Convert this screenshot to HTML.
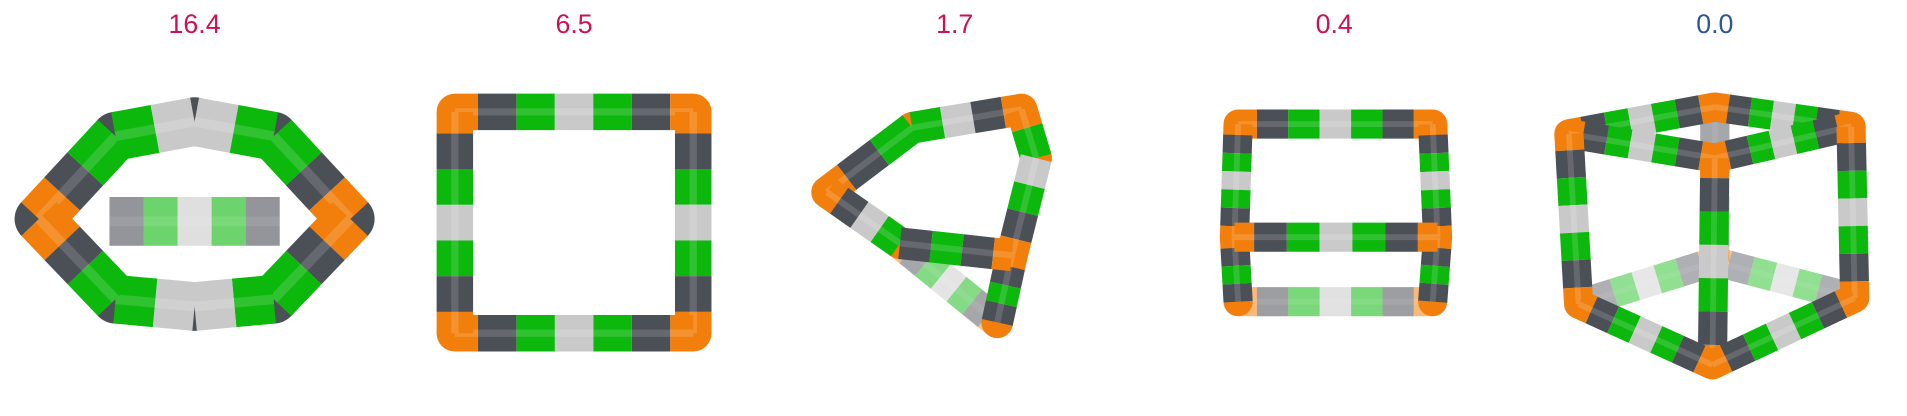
<!DOCTYPE html>
<html><head><meta charset="utf-8"><style>
html,body{margin:0;padding:0;background:#fff;width:1907px;height:416px;overflow:hidden}
svg{display:block}
</style></head><body>
<svg id="fig" width="1907" height="416" viewBox="0 0 1568 342" preserveAspectRatio="none" xmlns="http://www.w3.org/2000/svg">
<g font-family="Liberation Sans, DejaVu Sans, sans-serif" font-size="22" text-anchor="middle">
<text x="160" y="27" fill="#cc1155">16.4</text>
<text x="472" y="27" fill="#cc1155">6.5</text>
<text x="785" y="27" fill="#cc1155">1.7</text>
<text x="1097" y="27" fill="#cc1155">0.4</text>
<text x="1410" y="27" fill="#2e5597">0.0</text>
</g>
<g id="shapes"></g>
</svg>
<script>
const C={o:'#f27f0c',d:'#4b4f56',g:'#0cb80c',l:'#c9c9c9'};
const PAT=['o','d','g','l','g','d','o'];
const W=[0.6,1,1,1,1,1,0.6];
const NS='http://www.w3.org/2000/svg';
const root=document.getElementById('shapes');
function mk(tag,attrs,parent){const e=document.createElementNS(NS,tag);for(const k in attrs)e.setAttribute(k,attrs[k]);(parent||root).appendChild(e);return e;}
function edge(a,b,w,op,pat,wts,g){
  pat=pat||PAT;wts=wts||W;
  const tot=wts.reduce((s,x)=>s+x,0);let acc=0;
  for(let i=0;i<pat.length;i++){
    const t0=acc/tot;acc+=wts[i];const t1=acc/tot;
    const l=mk('line',{x1:a[0]+(b[0]-a[0])*t0,y1:a[1]+(b[1]-a[1])*t0,x2:a[0]+(b[0]-a[0])*t1,y2:a[1]+(b[1]-a[1])*t1,stroke:C[pat[i]],'stroke-width':w,'stroke-opacity':op},g);
    
    
  }
  const h=mk('line',{x1:a[0],y1:a[1],x2:b[0],y2:b[1],stroke:'#fff','stroke-width':w*0.2,'stroke-opacity':0.15*op},g);
  
  
}
function corner(p,w,op,g,col){
  const c=mk('circle',{cx:p[0],cy:p[1],r:w/2,fill:C[col||'o'],'fill-opacity':op},g);
  
  
}
function shape(name,verts,edges,w,cornerCol){
  const g=mk('g',{});
  
  
  const back=edges.filter(e=>e[2]!==undefined&&e[2]<1), front=edges.filter(e=>!(e[2]!==undefined&&e[2]<1));
  for(const e of back){edge(verts[e[0]],verts[e[1]],w,e[2],e[3],e[4],g);}
  const used=new Set();front.forEach(e=>{used.add(e[0]);used.add(e[1]);});
  used.forEach(i=>corner(verts[i],w,1,g,cornerCol));
  for(const e of front){edge(verts[e[0]],verts[e[1]],w,1,e[3],e[4],g);}
}
// shape 1: torus-like ring
shape('ring-16-4',[[32,180],[95,112],[160,100],[225,112],[288,180],[225,246],[160,252],[95,246],[90,182],[230,182]],
 [[8,9,0.6,['d','g','l','g','d'],[1,1,1,1,1]],[0,1,1,['o','d','g'],[1,1,1.3]],[1,2,1,['g','l'],[1,1]],[2,3,1,['l','g'],[1,1]],[3,4,1,['g','d','o'],[1.3,1,1]],
  [4,5,1,['o','d','g'],[1,1,1.3]],[5,6,1,['g','l'],[1,1]],[6,7,1,['l','g'],[1,1]],[7,0,1,['g','d','o'],[1.3,1,1]]],40,'d');
// shape 2: square
shape('square-6-5',[[374,92],[570,92],[570,274],[374,274]],[[0,1],[1,2],[2,3],[3,0]],30);
// shape 3: twisted triangle
shape('triangle-1-7',[[680,158],[750,105],[840,90],[852,130],[832,210],[820,265],[740,200]],
 [[0,6,0.5],[6,5,0.5],[1,2,1,['g','l','d','o'],[1,1,1,0.6]],[0,1,1,['o','d','g'],[0.6,1,1]],[2,3,1,['o','g'],[0.6,1]],[3,4,1,['l','g','d','o'],[1,1,1,0.6]],[4,5,1,['o','d','g','d'],[0.6,1,1,1]],[0,6,1,['o','d','l','g'],[0.6,1,1,1]],[6,4,1,['d','g','d','o'],[1,1,1,0.6]]],26);
// shape 4: box with crossbar
shape('box-0-4',[[1018,102],[1178,102],[1178,248],[1018,248],[1015,195],[1182,195]],
 [[3,2,0.55],[0,1],[0,4],[1,5],[4,3,1,['o','d','g','d'],[0.6,1,1,1]],[5,2,1,['o','d','g','d'],[0.6,1,1,1]],[4,5]],24);
// shape 5: cube
shape('cube-0-0',[[1410,88],[1290,110],[1522,104],[1410,130],[1298,250],[1525,245],[1410,215],[1408,300]],
 [[6,4,0.45],[6,5,0.45],[0,6,0.5],[1,0],[0,2],[1,3],[3,2],[1,4],[2,5],[3,7],[4,7],[7,5]],24);
</script>
</body></html>
